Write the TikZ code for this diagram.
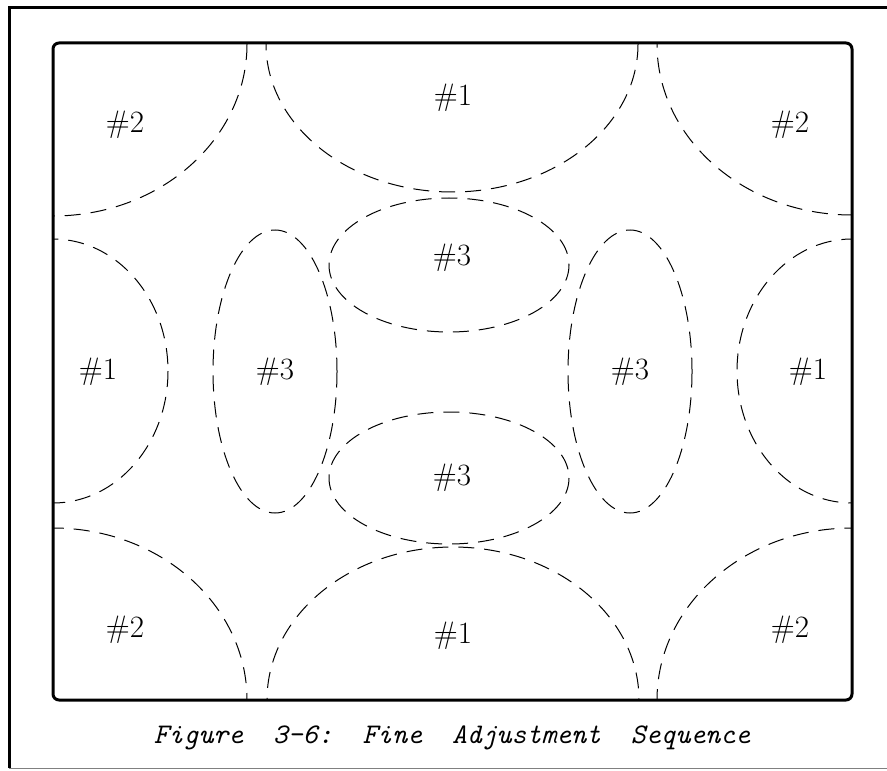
\documentclass[tikz,border=0pt]{standalone}
\usetikzlibrary{calc}

\begin{document}
\begin{tikzpicture}[x=0.5pt, y=-0.5pt,
    dashline/.style={line width=0.5pt, dash pattern=on 8pt off 5pt},
    tag/.style={font=\fontsize{15.5}{18}\selectfont, inner sep=0pt}]
    \useasboundingbox (0,0) rectangle (887,770);

    % Outer frame and the plate
    \draw[line width=1.5pt] (9,768) -- (9,8) -- (887,8);
    \draw[gray, line width=0.5pt] (9,768) -- (887,768);
    \coordinate[] (TL) at (53,43);
    \coordinate[] (BR) at (852,700);
    \draw[line width=1.5pt, rounded corners=3pt] (TL) rectangle (BR);

    % Dashed adjustment zones, clipped to the plate
    \begin{scope}
        \clip (TL) rectangle (BR);
        % zones #1
        \draw[dashline] (452,44) ellipse [x radius=186, y radius=148];
        \draw[dashline] (453,700) ellipse [x radius=186, y radius=153];
        \draw[dashline] (53,371) ellipse [x radius=115, y radius=132];
        \draw[dashline] (852,371) ellipse [x radius=115, y radius=132];
        % zones #2
        \draw[dashline] (53,44) ellipse [x radius=194, y radius=172];
        \draw[dashline] (852,44) ellipse [x radius=195, y radius=171];
        \draw[dashline] (53,700) ellipse [x radius=194, y radius=172];
        \draw[dashline] (852,700) ellipse [x radius=195, y radius=172];
    \end{scope}
    % zones #3
    \draw[dashline] (275,371.5) ellipse [x radius=62, y radius=141.5];
    \draw[dashline] (630,371.5) ellipse [x radius=62, y radius=141.5];
    \draw[dashline] (449,265) ellipse [x radius=120, y radius=67];
    \draw[dashline] (449,478) ellipse [x radius=120, y radius=66];

    % Labels
    \node[tag] (n1top) at (453,98) {\#1};
    \node[tag] (n1bot) at (453,636) {\#1};
    \node[tag] (n1left) at (98,372) {\#1};
    \node[tag] (n1right) at (808,372) {\#1};
    \node[tag] (n2tl) at (125,125) {\#2};
    \node[tag] (n2tr) at (790,125) {\#2};
    \node[tag] (n2bl) at (125,630) {\#2};
    \node[tag] (n2br) at (790,630) {\#2};
    \node[tag] (n3top) at (452,258) {\#3};
    \node[tag] (n3bot) at (452,478) {\#3};
    \node[tag] (n3left) at (275,372) {\#3};
    \node[tag] (n3right) at (630,372) {\#3};

    % Caption
    \node[font=\fontsize{14.2}{17}\selectfont\ttfamily\itshape] (caption) at (452,738)
        {Figure\ \ 3–6:\ \ Fine\ \ Adjustment\ \ Sequence};
\end{tikzpicture}
\end{document}
